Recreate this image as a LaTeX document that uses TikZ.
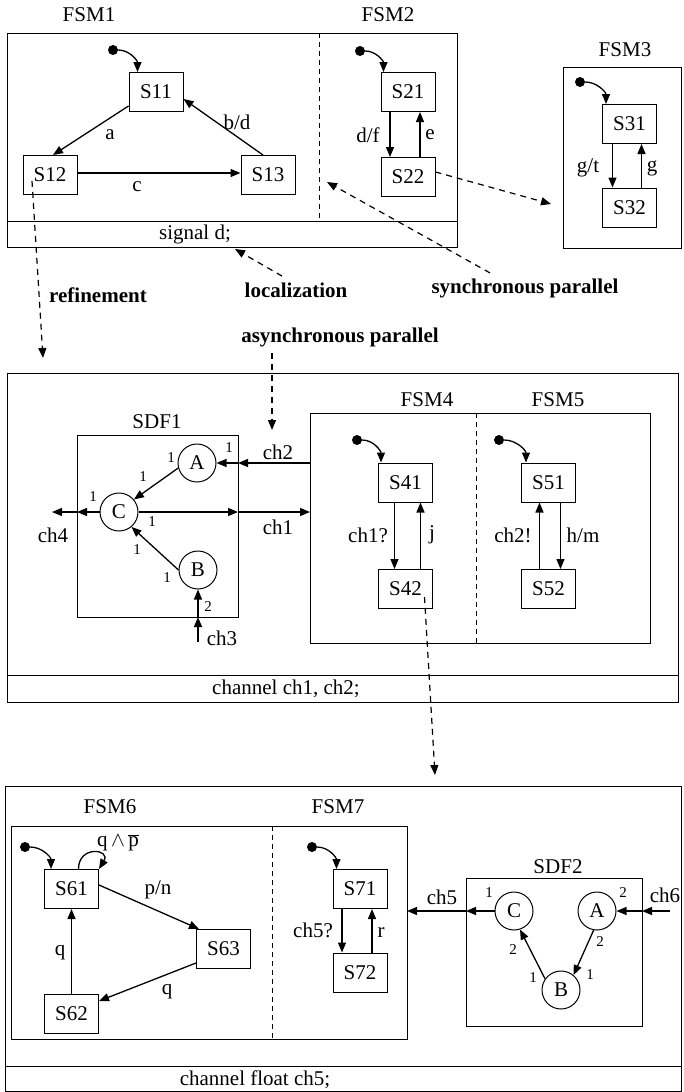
\documentclass[tikz,border=0pt]{standalone}
\usepackage{fontspec}
\setmainfont{Liberation Serif}
\usetikzlibrary{arrows.meta}

\begin{document}
\begin{tikzpicture}[x=1pt,y=1pt,
  every node/.style={font=\fontsize{21}{24}\selectfont},
  state/.style={draw, line width=1pt, minimum width=54pt, minimum height=39pt, inner sep=0pt},
  actor/.style={draw, circle, line width=1pt, minimum size=38pt, inner sep=0pt},
  init/.style={circle, fill, inner sep=0pt, minimum size=10pt},
  arr/.style={-{Triangle[length=10pt,width=8pt]}, line width=1.3pt},
  darr/.style={arr, dash pattern=on 6pt off 5pt, line width=1.2pt},
  frame/.style={line width=1pt},
  divider/.style={line width=1pt, dash pattern=on 5pt off 4pt},
  rate/.style={font=\fontsize{15}{17}\selectfont},
  kind/.style={font=\fontsize{21}{24}\selectfont\bfseries}]

\useasboundingbox (0,0) rectangle (683,-1092);

\draw[frame] (7,-33) rectangle (457,-247);
\draw[frame] (7,-221) -- (457,-221);
\draw[divider] (319,-33) -- (319,-221);
\node (fsmone) at (89,-15) {FSM1};
\node (fsmtwo) at (388,-15) {FSM2};
\node (sigd) at (195,-234) {signal d;};

\node[state] (s11) at (156,-92) {S11};
\node[state] (s12) at (50,-175) {S12};
\node[state] (s13) at (268,-175) {S13};
\node[init] (i1) at (113,-50) {};
\draw[arr] (i1) to[out=0,in=90] ([xshift=9pt]s11.north west);
\draw[arr] ([yshift=6pt]s11.south west) -- ([xshift=3pt]s12.north);
\draw[arr] ([xshift=-5pt]s13.north) -- ([yshift=-7pt]s11.east);
\draw[arr] ([yshift=2pt]s12.east) -- ([yshift=2pt]s13.west);
\node at (110,-135) {a};
\node at (237,-122) {b/d};
\node at (137,-187) {c};

\node[state] (s21) at (408,-92) {S21};
\node[state] (s22) at (408,-177) {S22};
\node[init] (i2) at (360,-51) {};
\draw[arr] (i2) to[out=0,in=90] ([xshift=3pt]s21.north west);
\draw[arr] ([xshift=-18pt]s21.south) -- ([xshift=-18pt]s22.north);
\draw[arr] ([xshift=12pt]s22.north) -- ([xshift=12pt]s21.south);
\node at (368,-135) {d/f};
\node at (430,-135) {e};

\draw[frame] (563,-67) rectangle (681,-248);
\node (fsmthree) at (625,-50) {FSM3};
\node[state] (s31) at (629.5,-124) {S31};
\node[state] (s32) at (629.5,-207.5) {S32};
\node[init] (i3) at (580,-82) {};
\draw[arr] (i3) to[out=0,in=90] ([xshift=4pt]s31.north west);
\draw[arr] ([xshift=-17pt]s31.south) -- ([xshift=-17pt]s32.north);
\draw[arr] ([xshift=12pt]s32.north) -- ([xshift=12pt]s31.south);
\node at (588,-168) {g/t};
\node at (652,-168) {g};

\node[kind] (lref) at (98,-295) {refinement};
\node[kind] (lloc) at (296,-290) {localization};
\node[kind] (lsync) at (525,-288) {synchronous parallel};
\node[kind] (lasync) at (340,-337) {asynchronous parallel};

\coordinate (reftip) at (43,-358);
\coordinate (loctip) at (235,-249);
\coordinate (synctip) at (327,-182);
\coordinate (fsmthreetip) at (551,-204);
\coordinate (asynctip) at (272,-430);
\draw[darr] ([xshift=-18pt,yshift=-6pt]s12.center) -- (reftip);
\draw[darr] ([xshift=-14pt,yshift=3pt]lloc.north) -- (loctip);
\draw[darr] ([xshift=-35pt,yshift=2pt]lsync.north) -- (synctip);
\draw[darr] ([yshift=5pt]s22.east) -- (fsmthreetip);
\draw[darr] ([xshift=-68pt,yshift=-3pt]lasync.south) -- (asynctip);

\draw[frame] (7,-373) rectangle (678,-702);
\draw[frame] (7,-675) -- (678,-675);
\node (chdecl) at (286,-689) {channel ch1, ch2;};

\node (sdfone) at (157,-422) {SDF1};
\draw[frame] (77,-435) rectangle (238,-617);
\node[actor] (a1) at (197,-463) {A};
\node[actor] (c1) at (119,-512) {C};
\node[actor] (b1) at (198,-570) {B};
\draw[arr] (a1.195) -- (c1.40);
\draw[arr] (b1.west) -- (c1.-50);
\coordinate (p2in) at (238,-463);
\coordinate (p2out) at (310,-463);
\coordinate (p1in) at (238,-512);
\coordinate (p1out) at (310,-512);
\coordinate (p4in) at (77,-512);
\coordinate (p4out) at (52,-512);
\coordinate (p3in) at (198,-617);
\coordinate (p3out) at (198,-642);
\draw[arr] (p2out) -- (p2in);
\draw[arr] (p2in) -- (a1);
\draw[arr] (c1) -- (p1in);
\draw[arr] (p1in) -- (p1out);
\draw[arr] (c1) -- (p4in);
\draw[arr] (p4in) -- (p4out);
\draw[arr] (p3out) -- (p3in);
\draw[arr] (p3in) -- (b1);
\node at (278,-452) {ch2};
\node at (278,-527) {ch1};
\node at (53,-535) {ch4};
\node at (222,-638) {ch3};
\node[rate] at (229,-448) {1};
\node[rate] at (171,-458) {1};
\node[rate] at (143,-477) {1};
\node[rate] at (93,-497) {1};
\node[rate] at (152,-522) {1};
\node[rate] at (137,-550) {1};
\node[rate] at (167,-578) {1};
\node[rate] at (208,-607) {2};

\node (fsmfour) at (427,-400) {FSM4};
\node (fsmfive) at (558,-400) {FSM5};
\draw[frame] (310,-413) rectangle (650,-643);
\draw[divider] (476,-413) -- (476,-643);
\node[state] (s41) at (405.5,-482.5) {S41};
\node[state] (s42) at (405.5,-589) {S42};
\node[state] (s51) at (548.5,-482.5) {S51};
\node[state] (s52) at (548.5,-589) {S52};
\node[init] (i4) at (357,-440) {};
\node[init] (i5) at (499,-440) {};
\draw[arr] (i4) to[out=0,in=90] ([xshift=3pt]s41.north west);
\draw[arr] (i5) to[out=0,in=90] ([xshift=5pt]s51.north west);
\draw[arr] ([xshift=-11pt]s41.south) -- ([xshift=-11pt]s42.north);
\draw[arr] ([xshift=15pt]s42.north) -- ([xshift=15pt]s41.south);
\draw[arr] ([xshift=-9pt]s52.north) -- ([xshift=-9pt]s51.south);
\draw[arr] ([xshift=12pt]s51.south) -- ([xshift=12pt]s52.north);
\node at (368,-535) {ch1?};
\node at (432,-535) {j};
\node at (513,-535) {ch2!};
\node at (583,-535) {h/m};

\coordinate (s42tip) at (435,-775);
\draw[darr] ([xshift=19pt,yshift=-8pt]s42.center) -- (s42tip);

\draw[frame] (5,-786) rectangle (681,-1091);
\draw[frame] (5,-1066) -- (681,-1066);
\node (chfloat) at (255,-1080) {channel float ch5;};

\node (fsmsix) at (110,-807) {FSM6};
\node (fsmseven) at (338,-807) {FSM7};
\draw[frame] (11,-826) rectangle (407,-1039);
\draw[divider] (272,-826) -- (272,-1039);
\node[state] (s61) at (71.5,-889) {S61};
\node[state] (s62) at (71.5,-1014) {S62};
\node[state] (s63) at (223.5,-949) {S63};
\node[init] (i6) at (25,-847) {};
\draw[arr] (i6) to[out=0,in=90] ([xshift=7pt]s61.north west);
\draw[arr] ([xshift=7pt]s61.north) .. controls +(0,24) and +(12,20) .. (s61.north east);
\draw[arr] ([yshift=4pt]s61.east) -- ([xshift=3pt]s63.north west);
\draw[arr] ([yshift=-14pt]s63.west) -- ([yshift=-7pt]s62.north east);
\draw[arr] (s62) -- (s61);
\node at (118,-843) {q\,$\wedge$\,$\overline{\mbox{p}}$};
\node at (158,-890) {p/n};
\node at (167,-992) {q};
\node at (60,-953) {q};

\node[state] (s71) at (360,-889) {S71};
\node[state] (s72) at (360,-972.5) {S72};
\node[init] (i7) at (312,-847) {};
\draw[arr] (i7) to[out=0,in=90] ([xshift=4pt]s71.north west);
\draw[arr] ([xshift=-18pt]s71.south) -- ([xshift=-18pt]s72.north);
\draw[arr] ([xshift=12pt]s72.north) -- ([xshift=12pt]s71.south);
\node at (313,-930) {ch5?};
\node at (381,-933) {r};

\node (sdftwo) at (558,-867) {SDF2};
\draw[frame] (466,-878) rectangle (642,-1026);
\node[actor] (c2) at (514,-911) {C};
\node[actor] (a2) at (597,-911) {A};
\node[actor] (b2) at (561,-990) {B};
\draw[arr] (b2.145) -- (c2.-72);
\draw[arr] (a2.-100) -- (b2.50);
\coordinate (p5in) at (466,-911);
\coordinate (p5out) at (407,-911);
\coordinate (p6in) at (642,-911);
\coordinate (p6out) at (670,-911);
\draw[arr] (c2) -- (p5in);
\draw[arr] (p5in) -- (p5out);
\draw[arr] (p6out) -- (p6in);
\draw[arr] (p6in) -- (a2);
\node at (442,-897) {ch5};
\node at (665,-895) {ch6};
\node[rate] at (489,-893) {1};
\node[rate] at (623,-893) {2};
\node[rate] at (513,-950) {2};
\node[rate] at (600,-942) {2};
\node[rate] at (533,-978) {1};
\node[rate] at (590,-975) {1};

\end{tikzpicture}
\end{document}
